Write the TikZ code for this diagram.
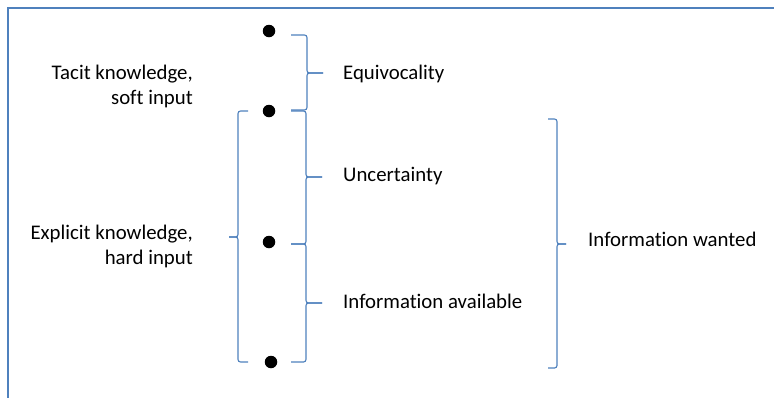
\documentclass[tikz,border=0pt]{standalone}
\usepackage{fontspec}
\setmainfont[Ligatures=NoCommon]{Carlito}
\begin{document}
\begin{tikzpicture}[x=1pt,y=-1pt,
  frame/.style={draw=blueline,line width=2pt},
  bracket/.style={draw=blueline,line width=1.1pt,rounded corners=2.5pt},
  dot/.style={circle,fill=black,inner sep=0pt,minimum size=12.5pt},
  lbl/.style={font=\fontsize{20.8}{25}\selectfont,inner sep=0pt},
  side/.style={lbl,align=right,anchor=east}]
\definecolor{blueline}{RGB}{79,129,189}
\useasboundingbox (0,0) rectangle (774,397);
% frame on top and left
\draw[frame] (8,398) -- (8,8) -- (775,8);
% scale points
\node[dot] (p1) at (269,31) {};
\node[dot] (p2) at (269,111) {};
\node[dot] (p3) at (269,242) {};
\node[dot] (p4) at (271,362) {};
% braces: #1 arm end x, #2 spine x, #3 tip x, #4 top y, #5 tip y, #6 bottom y
\newcommand\bracepath[6]{%
  \draw[bracket] (#1,#4) -- (#2,#4) -- (#2,#5) -- (#3,#5);
  \draw[bracket] (#3,#5) -- (#2,#5) -- (#2,#6) -- (#1,#6);}
\bracepath{291}{307}{323}{35}{73}{110}
\bracepath{291}{306}{322}{111}{177}{244}
\bracepath{291}{306}{322}{244}{303}{362}
\bracepath{248}{238}{229}{111}{237}{362}
\bracepath{548}{557}{566}{119}{244}{368}
% labels
\node[lbl,anchor=west] (equi) at (343,74) {Equivocality};
\node[lbl,anchor=west] (unc) at (343,176) {Uncertainty};
\node[lbl,anchor=west] (avail) at (343,301) {Information available};
\node[lbl,anchor=west] (want) at (588,239) {Information wanted};
\node[side] (tacit) at (193,86) {Tacit knowledge,\\soft input};
\node[side] (expl) at (193,246) {Explicit knowledge,\\hard input};
\end{tikzpicture}
\end{document}
